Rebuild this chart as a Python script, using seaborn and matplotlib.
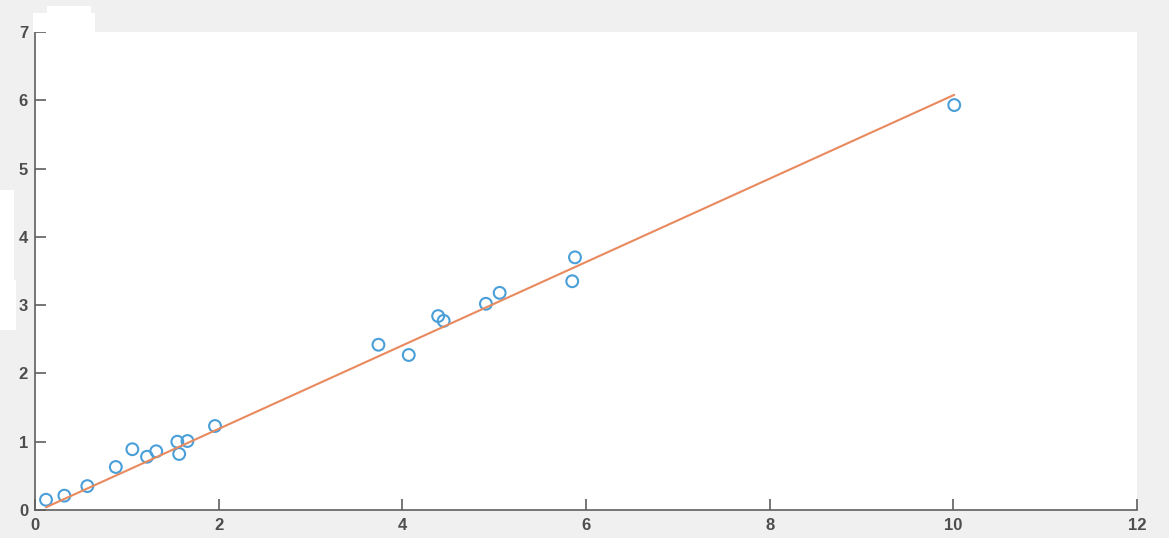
import matplotlib
matplotlib.use('Agg')
import matplotlib.pyplot as plt
import seaborn as sns
from matplotlib.patches import Rectangle

x_vals = [0.12, 0.32, 0.57, 0.88, 1.06, 1.22, 1.32, 1.55, 1.57, 1.66, 1.96,
          3.74, 4.07, 4.39, 4.45, 4.91, 5.06, 5.85, 5.88, 10.01]
y_vals = [0.15, 0.21, 0.35, 0.63, 0.89, 0.78, 0.86, 1.00, 0.82, 1.01, 1.23,
          2.42, 2.27, 2.84, 2.77, 3.02, 3.18, 3.35, 3.70, 5.93]

# fitted line end points
fit_x = [0.12, 10.01]
fit_y = [0.04, 6.08]

x_ticks = [0, 2, 4, 6, 8, 10, 12]
y_ticks = [0, 1, 2, 3, 4, 5, 6, 7]

sns.set_style('ticks')
plt.rcParams['font.family'] = ['Liberation Sans', 'DejaVu Sans']

fig = plt.figure(figsize=(11.69, 5.38), dpi=100, facecolor='#f0f0f0')
ax = fig.add_axes([35 / 1169, 28 / 538, 1102 / 1169, 478 / 538])
ax.set_facecolor('white')

sns.lineplot(x=fit_x, y=fit_y, ax=ax, color='#e8895e', linewidth=1.5)
sns.scatterplot(x=x_vals, y=y_vals, ax=ax, marker='o', s=72,
                facecolors='none', edgecolor='#4a9fd8', linewidth=1.5)

ax.set_xlim(0, 12)
ax.set_ylim(0, 7)
ax.set_xticks(x_ticks)
ax.set_yticks(y_ticks)

axis_col = '#5f5f5f'
for side in ['top', 'right']:
    ax.spines[side].set_visible(False)
for side in ['left', 'bottom']:
    ax.spines[side].set_color(axis_col)
    ax.spines[side].set_linewidth(1.2)
ax.tick_params(direction='in', length=8, width=1.2, color=axis_col,
               labelcolor='#4d4d4d', labelsize=12)
ax.tick_params(axis='x', pad=6)
ax.tick_params(axis='y', pad=5)
for lab in ax.get_xticklabels() + ax.get_yticklabels():
    lab.set_fontweight('bold')

# white patches on the background
for (px, py, pw, ph) in [(33, 13, 62, 19), (47, 6, 44, 8), (0, 190, 14, 90), (0, 280, 16, 50)]:
    fig.patches.append(Rectangle((px / 1169, 1 - (py + ph) / 538), pw / 1169, ph / 538,
                                 transform=fig.transFigure, facecolor='white',
                                 edgecolor='none', zorder=0))

fig.savefig('out.png', dpi=100, facecolor=fig.get_facecolor())
